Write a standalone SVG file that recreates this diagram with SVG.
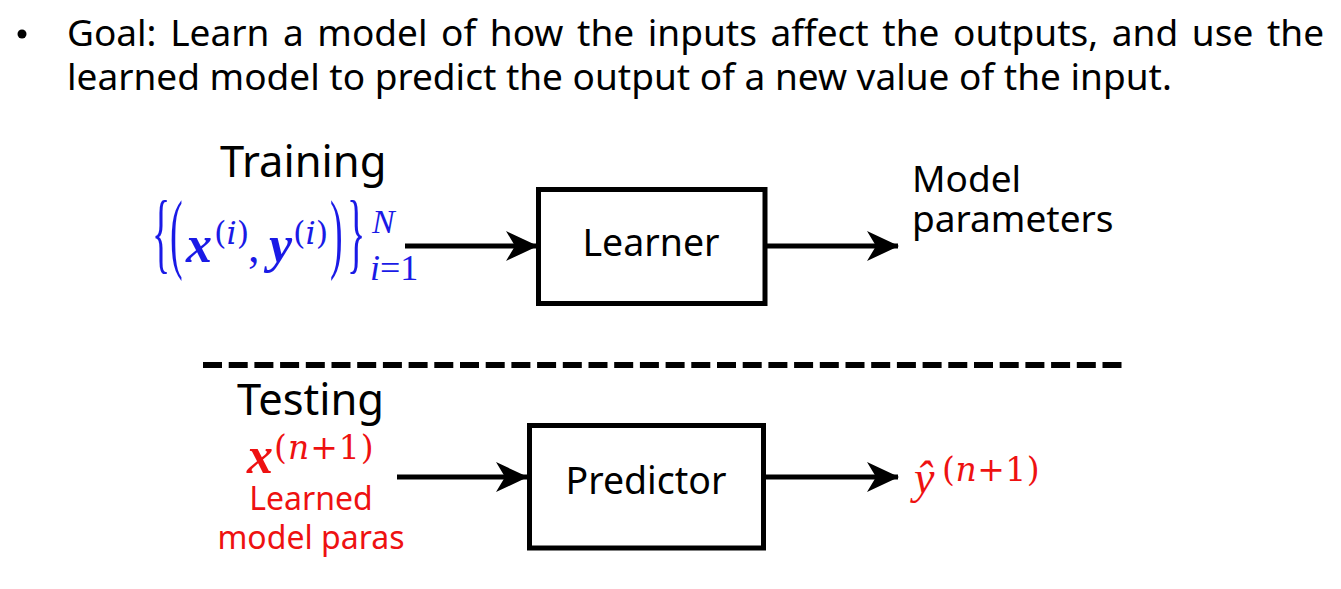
<svg xmlns="http://www.w3.org/2000/svg" width="1341" height="589" viewBox="0 0 1341 589">
<defs>
<style>
.t{font-family:"Noto Sans","Open Sans",sans-serif;fill:#000}
.m{font-family:"Liberation Serif","Times New Roman",serif;font-style:italic}
.r{font-family:"Liberation Serif","Times New Roman",serif;font-style:normal}
.s{font-family:"DejaVu Serif",serif;font-style:normal}
.box{fill:#fff;stroke:#000;stroke-width:5}
.ln{stroke:#000;stroke-width:5;fill:none}
.blue{fill:#1a1ae6}
.red{fill:#ee1111}
</style>
<marker id="ah" markerUnits="userSpaceOnUse" viewBox="0 0 32 30" refX="31" refY="15" markerWidth="32" markerHeight="30" orient="auto">
<path d="M0,0 L32,15 L0,30 L9,15 Z" fill="#000"/>
</marker>
</defs>
<rect width="1341" height="589" fill="#fff"/>
<g id="bullet">
<circle cx="22" cy="34" r="4.5" fill="#000"/>
<text class="t" x="67" y="46" font-size="37" word-spacing="4">Goal: Learn a model of how the inputs affect the outputs, and use the</text>
<text class="t" x="67" y="90" font-size="37">learned model to predict the output of a new value of the input.</text>
</g>
<g id="training-label"><text class="t" x="220" y="177" font-size="43.5">Training</text></g>
<g id="training-data" class="blue">
<text class="r" transform="translate(152,262) scale(1,2.35)" font-size="38">{</text>
<text class="r" transform="translate(170,262) scale(1,2.35)" font-size="38">(</text>
<text class="m" x="186" y="262" font-size="52" font-weight="bold">x</text>
<text class="s" x="214" y="244" font-size="32">(<tspan font-style="italic">i</tspan>)</text>
<text class="r" x="248" y="262" font-size="46">,</text>
<text class="m" x="269" y="262" font-size="52" font-weight="bold">y</text>
<text class="s" x="293" y="244" font-size="32">(<tspan font-style="italic">i</tspan>)</text>
<text class="r" transform="translate(330,262) scale(1,2.35)" font-size="38">)</text>
<text class="r" transform="translate(347,262) scale(1,2.35)" font-size="38">}</text>
<text class="m" x="372" y="233" font-size="34">N</text>
<text class="m" x="370" y="280" font-size="36">i<tspan font-style="normal">=1</tspan></text>
</g>
<g id="learner">
<rect class="box" x="538.5" y="189.5" width="226.5" height="114"/>
<text class="t" x="651" y="256" font-size="37.5" text-anchor="middle">Learner</text>
</g>
<g id="model-params">
<text class="t" x="912" y="192" font-size="37">Model</text>
<text class="t" x="912" y="232" font-size="37">parameters</text>
</g>
<g id="divider"><line x1="203" y1="365" x2="1123" y2="365" stroke="#000" stroke-width="6" stroke-dasharray="19 6.7"/></g>
<g id="testing-label"><text class="t" x="237" y="415" font-size="43.5">Testing</text></g>
<g id="testing-input" class="red">
<text class="m" x="247" y="473" font-size="52" font-weight="bold">x</text>
<text class="s" x="274" y="459" font-size="33" letter-spacing="1">(<tspan font-style="italic">n</tspan>+1)</text>
<text class="t red" x="311" y="510" font-size="32" text-anchor="middle">Learned</text>
<text class="t red" x="311" y="549" font-size="32" text-anchor="middle">model paras</text>
</g>
<g id="predictor">
<rect class="box" x="529.5" y="425.5" width="234" height="122.5"/>
<text class="t" x="646" y="494" font-size="37.5" text-anchor="middle">Predictor</text>
</g>
<g id="prediction" class="red">
<text class="m" x="914" y="493" font-size="46">ŷ</text>
<text class="s" x="942" y="481" font-size="33" letter-spacing="0.5">(<tspan font-style="italic">n</tspan>+1)</text>
</g>
<g id="connectors">
<line class="ln" x1="405" y1="246" x2="537" y2="246" marker-end="url(#ah)"/>
<line class="ln" x1="766" y1="246" x2="898" y2="246" marker-end="url(#ah)"/>
<line class="ln" x1="397" y1="477" x2="527" y2="477" marker-end="url(#ah)"/>
<line class="ln" x1="765" y1="477" x2="898" y2="477" marker-end="url(#ah)"/>
</g>
</svg>
